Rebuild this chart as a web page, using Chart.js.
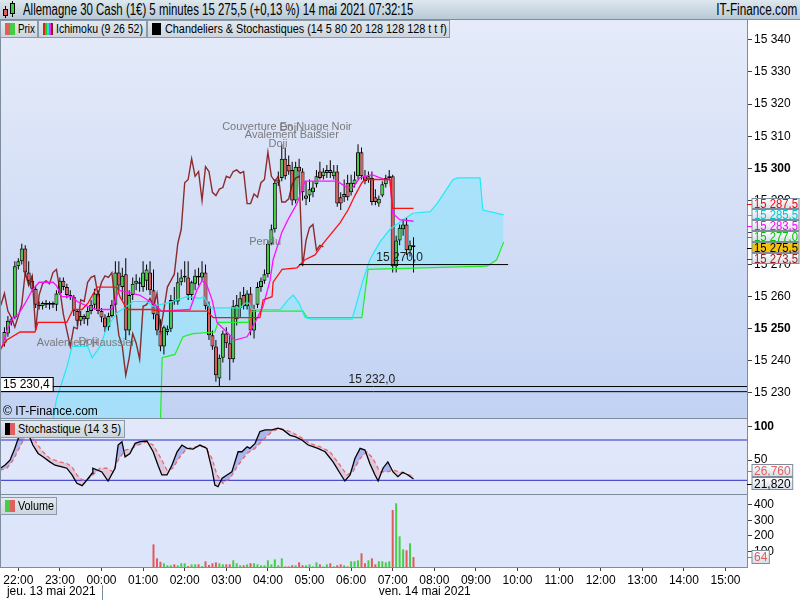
<!DOCTYPE html>
<html><head><meta charset="utf-8">
<script src="https://cdn.jsdelivr.net/npm/chart.js@4.4.1/dist/chart.umd.min.js"></script>
<style>
html,body{margin:0;padding:0;}
body{width:800px;height:600px;position:relative;overflow:hidden;background:#fff;font-family:"Liberation Sans",Arial,sans-serif;}
canvas{position:absolute;left:0;}
#header{position:absolute;left:0;top:0;width:800px;height:20px;background:linear-gradient(#dde7ee,#b9c9d6);border-bottom:1px solid #7d8d9c;box-sizing:border-box;z-index:5;}
.leg{position:absolute;height:18px;box-sizing:border-box;border:1px solid #8a9aaa;background:linear-gradient(#e3e9ef,#ccd5de);white-space:nowrap;color:#000;z-index:5;font-size:12px;line-height:16px;}
.ic{position:absolute;top:2px;height:12px;}
.fit{position:absolute;white-space:nowrap;transform-origin:0 50%;}
.vline{position:absolute;background:#7d8d9c;z-index:4;}
</style></head>
<body>
<div id="header"></div>
<canvas id="cMain" width="800" height="398" style="top:20px"></canvas>
<canvas id="cStoch" width="800" height="75" style="top:419px"></canvas>
<canvas id="cVol" width="800" height="105" style="top:495px"></canvas>
<div class="vline" style="left:0;top:20px;width:1px;height:548px"></div>
<div class="vline" style="left:0;top:418px;width:748px;height:1px"></div>
<div class="vline" style="left:0;top:494px;width:748px;height:1px"></div>
<div id="legends"></div>
<script>
// ---------------- DATA ----------------
const firstBar = -4; // bar index 0 = 22:00 (13 May), 5-minute bars
const openP = [15245.5,15248.5,15253.0,15253.5,15269.5,15271.0,15275.0,15267.5,15265.0,15262.5,15257.5,15257.0,15258.0,15257.5,15257.5,15257.5,15261.0,15265.0,15263.0,15260.5,15260.0,15255.5,15252.5,15254.0,15253.0,15255.5,15257.5,15261.0,15255.5,15253.5,15250.5,15254.0,15257.5,15267.5,15263.0,15267.0,15249.5,15260.5,15264.0,15264.5,15263.0,15265.0,15267.5,15262.0,15254.5,15249.5,15244.5,15249.0,15250.0,15259.0,15258.5,15264.5,15266.0,15266.0,15260.5,15264.0,15266.5,15266.0,15267.5,15257.0,15248.0,15244.5,15234.5,15241.0,15248.5,15245.5,15240.5,15253.0,15256.5,15260.5,15257.0,15261.0,15249.5,15257.5,15263.0,15265.0,15267.0,15276.5,15281.0,15295.5,15297.0,15303.0,15301.0,15299.5,15290.0,15300.5,15299.0,15290.5,15291.5,15292.5,15295.0,15299.0,15297.5,15298.5,15299.5,15297.5,15299.0,15291.0,15291.0,15295.5,15292.5,15295.0,15297.5,15305.0,15297.5,15296.5,15297.0,15291.0,15289.0,15291.5,15295.0,15297.0,15297.5,15269.5,15277.5,15281.0,15282.5,15274.5,15276.0];
const highP = [15250.5,15254.0,15253.5,15271.0,15272.0,15276.5,15276.0,15271.0,15266.5,15263.5,15258.5,15258.5,15259.0,15258.5,15258.5,15262.0,15266.0,15266.0,15264.0,15262.0,15260.5,15256.0,15255.5,15254.5,15257.0,15259.0,15262.5,15262.0,15256.5,15254.5,15255.0,15259.0,15271.0,15271.0,15269.0,15272.0,15262.0,15266.0,15267.0,15266.0,15271.0,15270.0,15271.0,15268.5,15257.5,15253.0,15251.0,15251.0,15260.5,15263.0,15267.5,15268.5,15271.0,15271.0,15265.0,15268.5,15269.0,15271.0,15270.0,15258.5,15249.5,15246.5,15242.0,15249.5,15250.5,15248.0,15259.0,15260.5,15261.5,15263.0,15262.0,15263.0,15257.5,15264.5,15266.0,15268.5,15277.5,15282.5,15296.5,15299.0,15307.5,15306.5,15304.0,15302.0,15302.0,15303.0,15300.0,15296.0,15296.5,15296.0,15299.5,15302.0,15300.0,15301.0,15302.5,15301.0,15301.0,15292.5,15296.5,15298.0,15298.0,15299.0,15307.5,15306.5,15299.5,15299.0,15299.0,15293.5,15291.5,15296.0,15298.0,15299.5,15298.0,15279.0,15282.5,15284.0,15284.5,15277.5,15278.5];
const lowP = [15244.5,15247.5,15251.0,15253.0,15268.5,15270.0,15266.5,15263.5,15261.5,15256.5,15256.0,15256.0,15256.5,15256.0,15256.5,15255.5,15260.5,15262.0,15259.5,15259.0,15254.0,15251.0,15251.0,15251.5,15251.0,15254.5,15256.0,15254.5,15252.0,15249.0,15249.5,15253.5,15257.0,15262.0,15259.0,15246.5,15248.0,15259.0,15262.0,15261.5,15261.5,15262.0,15260.5,15253.0,15248.0,15243.0,15242.0,15248.0,15249.0,15257.5,15257.5,15263.5,15264.5,15259.0,15259.0,15262.0,15263.5,15265.0,15256.0,15246.5,15243.5,15233.5,15232.0,15239.5,15244.0,15234.0,15239.5,15251.0,15253.5,15256.0,15256.0,15248.0,15247.0,15256.5,15261.5,15264.0,15266.0,15276.0,15280.0,15294.5,15296.0,15296.5,15298.0,15288.5,15289.0,15297.0,15290.0,15288.5,15289.5,15291.0,15294.0,15296.5,15296.5,15297.0,15297.0,15296.5,15288.0,15287.0,15289.5,15290.0,15291.5,15294.0,15296.5,15296.5,15295.0,15295.5,15288.5,15288.5,15288.0,15291.0,15294.0,15296.5,15267.5,15267.5,15276.0,15279.0,15273.0,15272.5,15267.5];
const closeP = [15249.0,15252.5,15252.0,15269.5,15271.0,15275.0,15267.5,15265.0,15262.5,15257.5,15257.0,15258.0,15257.5,15258.0,15258.0,15261.0,15265.0,15263.0,15260.5,15260.0,15255.5,15252.5,15254.0,15253.0,15255.5,15257.5,15261.0,15255.5,15253.5,15250.5,15254.0,15257.5,15267.5,15263.5,15266.5,15249.5,15260.5,15264.0,15265.0,15264.0,15267.5,15268.5,15262.0,15254.5,15249.5,15244.5,15250.5,15250.0,15259.0,15258.5,15264.5,15266.0,15266.5,15260.5,15264.5,15266.5,15266.0,15267.5,15257.0,15248.0,15244.5,15235.5,15241.0,15248.5,15245.5,15240.5,15257.0,15257.5,15259.5,15257.0,15261.0,15249.5,15256.0,15263.0,15265.0,15267.0,15276.5,15281.0,15295.5,15296.5,15303.0,15297.5,15299.0,15290.0,15300.5,15299.0,15292.5,15291.5,15293.5,15294.0,15297.5,15297.0,15299.0,15299.5,15298.5,15299.0,15289.0,15289.0,15292.0,15291.0,15295.5,15296.5,15305.0,15297.5,15296.0,15297.5,15289.5,15289.5,15290.5,15295.0,15297.0,15297.5,15269.5,15277.5,15281.5,15282.5,15274.5,15276.0,15275.5];
const volStart = 39;
const volume = [146,56,34,24,11,11,17,11,24,24,6,17,17,17,6,37,13,24,30,24,17,17,17,43,24,11,11,17,24,24,17,11,11,43,17,49,11,56,4,4,11,11,30,11,11,17,4,30,17,4,17,24,4,11,17,11,3,37,37,43,88,24,43,56,17,37,37,30,37,368,411,198,114,108,153,64];
const chikouShift = 26;
const tenkan = [[-5.3,15243.0],[-4.7,15244.5],[-3.3,15249.5],[-1.5,15253.5],[0,15254.5],[2,15258.0],[4,15262.0],[6,15264.5],[10,15264.5],[11,15263.5],[12.5,15260.0],[15.5,15260.0],[17,15258.5],[20,15257.0],[22.7,15256.0],[27,15256.0],[28.5,15260.5],[29,15262.0],[30.8,15261.5],[35,15260.5],[39.4,15257.5],[41.4,15255.5],[49.5,15256.0],[51.5,15262.0],[53,15265.0],[54.4,15263.5],[55.9,15259.0],[57.3,15252.0],[62.5,15246.5],[66,15247.5],[68.3,15252.0],[70.6,15257.0],[72.6,15265.0],[73.5,15271.5],[76,15280.0],[77.8,15284.0],[80.4,15289.0],[82.7,15296.0],[92,15296.0],[94.8,15294.0],[96.5,15294.0],[98.5,15297.0],[102,15298.0],[105.8,15296.5],[107.2,15296.5],[108,15286.0],[110,15284.0],[114,15283.5]];
const kijun = [[-5.3,15243.5],[-3.3,15246.5],[0.5,15249.0],[4.8,15249.0],[5.7,15252.0],[14,15252.0],[15.8,15256.0],[18.4,15256.0],[20.1,15258.0],[22.7,15263.0],[28.5,15263.0],[29.3,15260.0],[31.4,15256.0],[38.6,15256.0],[40.9,15255.5],[54.4,15255.5],[56.2,15253.5],[69.7,15253.5],[70.6,15259.0],[73.2,15260.0],[73.5,15264.5],[76.1,15268.5],[80.4,15269.0],[82.7,15271.5],[85.6,15273.0],[87.9,15276.5],[92.8,15283.0],[95.1,15287.0],[97.1,15291.5],[99.1,15295.5],[100,15296.5],[107.2,15296.5],[108,15287.5],[114,15287.5]];
const senkouA = [[9,15215.0],[11,15228.0],[14,15238.0],[15.5,15244.5],[20,15244.5],[21.3,15241.0],[23.6,15244.5],[25.6,15250.5],[28.5,15255.0],[31.4,15257.0],[33.1,15258.5],[37.1,15258.5],[38.9,15257.0],[40.9,15257.5],[42.9,15258.0],[47.2,15259.5],[48.7,15260.0],[52.4,15259.5],[53.5,15260.0],[55.3,15256.5],[64,15256.5],[65.4,15258.0],[66.5,15258.0],[67.4,15256.0],[75.6,15256.0],[77.8,15259.0],[79.3,15260.5],[81,15258.0],[82.7,15253.5],[84.5,15253.0],[96.3,15253.0],[99.4,15265.0],[101.4,15271.5],[104.3,15277.0],[107.2,15281.0],[111,15284.0],[113.8,15286.0],[118.8,15286.5],[120.8,15289.0],[125.4,15296.5],[126.8,15297.0],[133.2,15297.0],[134,15287.0],[140,15285.5]];
const senkouB = [[9,15200.0],[40.5,15200.0],[41.5,15241.0],[45.2,15242.0],[47.5,15247.5],[50.4,15248.5],[56.7,15249.0],[57.6,15252.0],[66.3,15252.0],[67.4,15255.5],[82.1,15255.5],[83.3,15253.5],[99.1,15253.5],[100.9,15268.5],[135.2,15269.5],[138,15271.5],[140,15277.0]];
const stochK = [[-5.3,37.6],[-3.8,42.7],[-2.4,50],[-1,67.6],[0,82.4],[1.4,95],[2.8,90],[4.2,72.5],[5.7,60],[7.1,55],[9.1,47.5],[10.6,42.5],[12.6,40],[14,38],[15.5,28],[16.9,15.5],[18.4,12],[19.8,20.5],[21.3,30.5],[21.5,38],[24.1,32.5],[25.9,19],[27.9,38],[28.8,72.5],[29.9,77.5],[30.8,55],[32.2,60],[33.7,75],[35.1,77.5],[37.1,78.5],[38.9,62.5],[40.3,42.5],[41.4,28],[42.9,28],[44.3,42.5],[45.8,62.5],[47.2,72.5],[48.7,67.5],[50.4,66.5],[52.4,72.5],[54.4,67.5],[55.9,35.5],[56.7,13],[57.6,10.5],[58.8,23],[60.2,28],[61.6,32.5],[63.4,62.5],[64.5,62.5],[66,70],[66.8,67.5],[68.3,75],[69.7,92.5],[71.2,95],[73.2,95],[74.9,97.5],[76.4,95],[78.4,87],[79.8,85],[81.8,80],[83.6,72.5],[85,70],[86.4,67.5],[88.5,62.5],[90.8,47.5],[92.8,30.5],[94.2,19],[95.7,28],[97.1,52.5],[98.6,67.5],[100,65],[101.4,45],[102.9,28],[103.8,19],[105.2,38],[106.6,47.5],[108.1,32.5],[109.5,25.5],[110.9,32],[112.4,28],[114,21.82]];
const stochD = [[-5.3,35],[-3.3,38],[-1.5,50],[0.5,70],[1.9,85],[4,87],[5.4,74],[7.1,62.5],[9.1,52.5],[12,47.5],[14,45],[15.5,40],[16.9,28],[18.4,20.5],[19.8,20.5],[21.5,28],[23.6,38],[25.6,38],[27.3,32.5],[28.8,50],[30.8,65],[32.8,67.5],[34.5,72.5],[37.1,77.5],[38.9,72.5],[40.9,55],[42.9,35],[44.6,38],[46.6,55],[48.7,67.5],[51.5,70],[53.9,70],[55.9,52.5],[57.3,28],[59,15.5],[61.1,23],[63.4,42.5],[66,60],[68.3,67.5],[70.6,80],[73.2,92.5],[75.5,97.5],[78.4,92.5],[81.2,85],[84.1,75],[87,70],[89.9,62.5],[92.8,42.5],[94.8,28],[96.5,32.5],[98.6,52.5],[100.6,62.5],[102.3,52.5],[104.3,32.5],[106.3,32.5],[108.1,35],[110.1,32.5],[112.1,28.5],[114,26.76]];
const stochLevels = [80, 20];
const chikouLabelValue = 15273.5;
const levelLines = [
  {price:15270.0, from:81, to:141.3, labelBar:110},
  {price:15232.0, from:null, to:null, labelBar:102},
  {price:15230.4, from:null, to:null, labelBar:null}
];
const patterns = [
  {text:'Couverture En Nuage Noir', bar:77.5, price:15313.0},
  {text:'Avalement Baissier', bar:78.9, price:15310.5},
  {text:'Doji', bar:78.1, price:15312.5},
  {text:'Doji', bar:74.9, price:15307.5},
  {text:'Pendu', bar:71.2, price:15277.0},
  {text:'Avalement Haussier', bar:19.5, price:15245.5},
  {text:'Doji', bar:20.1, price:15246.0}
];
const priceTicks = [15230,15240,15250,15260,15270,15280,15290,15300,15310,15320,15330,15340];
const stochTicks = [50,100];
const volTicks = [100,200,300,400];
const timeTickBars = [0,12,24,36,48,60,72,84,96,108,120,132,144,156,168,180,192,204];
const timeLabels = ['22:00','23:00','00:00','01:00','02:00','03:00','04:00','05:00','06:00','07:00','08:00','09:00','10:00','11:00','12:00','13:00','14:00','15:00'];
const dayStartBar = 24;
const dateLabels = ['jeu. 13 mai 2021','ven. 14 mai 2021'];
const titleText = 'Allemagne 30 Cash (1€) 5 minutes 15 275,5 (+0,13 %) 14 mai 2021 07:32:15';

// ---------------- FONT ----------------
const FF = '"Liberation Sans", Arial, sans-serif';
const FS = 12;

// ---------------- HTML parts ----------------
function fitSpan(left, top, width, text, bold, right){
  return '<span class="fit" data-w="'+width+'" style="'+(right ? 'right:'+right+'px;transform-origin:100% 50%;' : 'left:'+left+'px;')+'top:'+top+'px;font:'+(bold?'bold ':'')+'12px '+FF+';line-height:16px">'+text+'</span>';
}
const hdr = document.getElementById('header');
hdr.innerHTML =
 '<div style="position:absolute;left:5px;top:6px;width:1px;height:12px;background:#000"></div>'+
 '<div style="position:absolute;left:3px;top:9px;width:5px;height:7px;background:#e06060;border:1px solid #000;box-sizing:border-box"></div>'+
 '<div style="position:absolute;left:12px;top:1px;width:1px;height:16px;background:#000"></div>'+
 '<div style="position:absolute;left:10px;top:3px;width:5px;height:11px;background:#44cc44;border:1px solid #000;box-sizing:border-box"></div>'+
 fitSpan(23, 1, 390, titleText, true) +
 fitSpan(0, 1, 81, 'IT-Finance.com', true, 3);
function legBox(left, top, width, icons, text, tw){
  let h = '<div class="leg" style="left:'+left+'px;top:'+top+'px;width:'+width+'px">';
  icons.forEach(ic => { h += '<div class="ic" style="left:'+ic[0]+'px;width:'+ic[1]+'px;background:'+ic[2]+'"></div>'; });
  h += fitSpan(17, 0, tw, text, false) + '</div>';
  return h;
}
document.getElementById('legends').innerHTML =
  legBox(0,20,38,[[4,5,'#e06060'],[9,5,'#44cc44']],'Prix',17) +
  legBox(38,20,109,[[4,2,'#e02020'],[6,2,'#20d020'],[8,2,'#20e0e0'],[10,2,'#ff20ff'],[12,2,'#8b1a1a']],'Ichimoku (9 26 52)',87) +
  legBox(147,20,303,[[4,9,'#000']],'Chandeliers &amp; Stochastiques (14 5 80 20 128 128 128 t t f)',282) +
  legBox(0,420,125,[[4,5,'#000'],[9,5,'#e06060']],'Stochastique (14 3 5)',103) +
  legBox(0,497,57,[[4,5,'#44cc44'],[9,5,'#e06060']],'Volume',36);
document.querySelectorAll('.fit').forEach(s => {
  const w = s.getBoundingClientRect().width, t = +s.dataset.w;
  if (w > 0) s.style.transform = 'scaleX(' + (t / w).toFixed(3) + ')';
});

// ---------------- helpers ----------------
function grp(v){ return String(v).replace(/\B(?=(\d{3})+(?!\d))/g,' '); }
function fmt1(v){ const s = v.toFixed(1).split('.'); return grp(s[0]) + ',' + s[1]; }
function fmt3(v){ return v.toFixed(3).replace('.', ','); }
const X_MIN = -5.28, X_MAX = 210.2;
const bars = openP.map((_, k) => k + firstBar);
const GREEN = '#46cf46', RED = '#e05a5a';
const pts = arr => arr.map(p => ({x:p[0], y:p[1]}));
const hline = (v, a, b) => [{x:a, y:v}, {x:b, y:v}];

Chart.defaults.font.family = FF;
Chart.defaults.font.size = FS;
Chart.defaults.color = '#000';

function yAxis(min, max, ticks, boldFn, fmt){
  return {type:'linear', position:'right', min:min, max:max,
    afterBuildTicks: s => { s.ticks = ticks.map(v => ({value:v})); },
    afterFit: s => { s.width = 53; s.paddingTop = 0; s.paddingBottom = 0; },
    ticks:{padding:2, color:'#000', autoSkip:false, callback: v => fmt(v),
      font: ctx => ({family:FF, size:FS, weight: (ctx.tick && boldFn(ctx.tick.value)) ? 'bold' : 'normal'})},
    grid:{drawOnChartArea:false, drawTicks:true, tickLength:5, color:'#404040'},
    border:{display:true, color:'#7d8d9c'}
  };
}
const hiddenX = {type:'linear', min:X_MIN, max:X_MAX, display:false, offset:false, grid:{offset:false}};
const baseOpts = {responsive:false, animation:false, devicePixelRatio:1, events:[],
  layout:{padding:0},
  plugins:{legend:{display:false}, tooltip:{enabled:false}, filler:{drawTime:'beforeDatasetsDraw'}}};

function fillBg(chart, c1, c2){
  const {ctx, chartArea:a} = chart;
  const g = ctx.createLinearGradient(0, a.top, 0, a.bottom);
  g.addColorStop(0, c1); g.addColorStop(1, c2);
  ctx.save(); ctx.fillStyle = g; ctx.fillRect(a.left, a.top, a.right - a.left, a.bottom - a.top); ctx.restore();
}
function placeLabels(items, h){
  const s = items.slice().sort((a,b) => a.y - b.y);
  let groups = s.map(it => ({items:[it], top: it.y - h/2}));
  let changed = true;
  while (changed){
    changed = false;
    for (let g = 0; g < groups.length - 1; g++){
      const A = groups[g], B = groups[g+1];
      if (A.top + A.items.length*h > B.top + 0.01){
        const its = A.items.concat(B.items);
        const mean = its.reduce((t,it) => t + it.y, 0) / its.length;
        groups.splice(g, 2, {items:its, top: mean - its.length*h/2});
        changed = true; break;
      }
    }
  }
  groups.forEach(G => G.items.forEach((it,k) => { it.py = G.top + k*h + h/2; }));
}
function drawAxisLabels(chart, items, h, fs){
  const {ctx, chartArea:a} = chart;
  placeLabels(items, h);
  ctx.save();
  ctx.font = (fs || FS) + 'px ' + FF;
  ctx.textBaseline = 'middle';
  items.forEach(it => {
    const w = Math.min(ctx.measureText(it.text).width + 4, 47);
    const x = a.right + 5;
    ctx.strokeStyle = it.color; ctx.lineWidth = 1;
    ctx.beginPath(); ctx.moveTo(a.right, Math.round(it.py)+0.5); ctx.lineTo(x, Math.round(it.py)+0.5); ctx.stroke();
    const top = Math.round(it.py - h/2) + 0.5;
    if (it.bg){ ctx.fillStyle = it.bg; }
    else { const g = ctx.createLinearGradient(0, top, 0, top + h); g.addColorStop(0,'#ffffff'); g.addColorStop(1,'#d3dbe4'); ctx.fillStyle = g; }
    ctx.fillRect(x, top, w, h - 1);
    ctx.strokeStyle = '#7d8d9c'; ctx.strokeRect(x, top, w, h - 1);
    ctx.fillStyle = it.color;
    ctx.save(); ctx.translate(x + 2, top + h/2);
    const tw = ctx.measureText(it.text).width;
    if (tw > w - 3) ctx.scale((w - 3) / tw, 1);
    ctx.fillText(it.text, 0, 0.5); ctx.restore();
  });
  ctx.restore();
}

// ---------------- MAIN CHART ----------------
const candleColors = bars.map((b,k) => closeP[k] >= openP[k] ? GREEN : RED);
const chikouPts = [];
bars.forEach((b,k) => { if (b - chikouShift >= -6) chikouPts.push({x: b - chikouShift, y: closeP[k]}); });
const lineDs = (data, color, w, order, extra) => Object.assign({type:'line', data:data, borderColor:color, borderWidth:w, pointRadius:0, tension:0, fill:false, order:order}, extra || {});

const mainPlugin = {
  id:'mainDeco',
  beforeDraw(chart){ fillBg(chart, '#e5ebf9', '#c2d2f3'); },
  afterDatasetsDraw(chart){
    const {ctx, chartArea:a, scales:{x, y}} = chart;
    ctx.save();
    ctx.beginPath(); ctx.rect(a.left, a.top, a.right-a.left, a.bottom-a.top); ctx.clip();
    ctx.font = '11px ' + FF; ctx.textAlign = 'center'; ctx.textBaseline = 'middle';
    ctx.fillStyle = '#7a7a7a';
    patterns.forEach(p => ctx.fillText(p.text, x.getPixelForValue(p.bar), y.getPixelForValue(p.price)));
    ctx.font = FS + 'px ' + FF; ctx.fillStyle = '#222'; ctx.textBaseline = 'bottom';
    levelLines.forEach(L => {
      if (L.labelBar !== null) ctx.fillText(fmt1(L.price), x.getPixelForValue(L.labelBar), y.getPixelForValue(L.price) - 1);
    });
    const L3 = levelLines[2];
    const py = Math.round(y.getPixelForValue(L3.price));
    ctx.textAlign = 'left'; ctx.textBaseline = 'middle';
    const tw = ctx.measureText(fmt1(L3.price)).width;
    ctx.fillStyle = '#fff'; ctx.fillRect(a.left, py - 14, tw + 6, 14);
    ctx.strokeStyle = '#000'; ctx.lineWidth = 1; ctx.strokeRect(a.left + 0.5, py - 14.5, tw + 6, 14);
    ctx.fillStyle = '#000'; ctx.fillText(fmt1(L3.price), a.left + 3, py - 7);
    ctx.fillText('© IT-Finance.com', a.left + 3, a.bottom - 6);
    ctx.restore();
  },
  afterDraw(chart){
    const y = chart.scales.y;
    const last = arr => arr[arr.length-1][1];
    const items = [
      {v:last(kijun), color:'#ff0000'},
      {v:last(senkouA), color:'#00c4d0'},
      {v:last(tenkan), color:'#ff00ff'},
      {v:last(senkouB), color:'#00c000'},
      {v:chikouLabelValue, color:'#a01818'},
      {v:closeP[closeP.length-1], color:'#000000', bg:'#f3c20f'}
    ];
    items.forEach(it => { it.y = y.getPixelForValue(it.v); it.text = fmt1(it.v); });
    drawAxisLabels(chart, items, 11);
  }
};

new Chart(document.getElementById('cMain'), {
  type:'bar',
  data:{datasets:[
    lineDs(pts(senkouA), '#22eaf4', 1.2, 2, {fill:{target:1, above:'rgba(160,226,250,0.82)', below:'rgba(160,226,250,0.82)'}}),
    lineDs(pts(senkouB), '#22ee22', 1.2, 2),
    {type:'bar', data:bars.map((b,k) => ({x:b, y:[lowP[k], highP[k]]})), backgroundColor:'#000', barThickness:1, grouped:false, borderWidth:0, inflateAmount:0, order:6},
    {type:'bar', data:bars.map((b,k) => ({x:b, y:[openP[k], closeP[k]]})), backgroundColor:candleColors, borderColor:'#000', borderWidth:1, borderSkipped:false, barThickness:4, minBarLength:1, grouped:false, inflateAmount:0, order:5},
    lineDs(chikouPts, 'rgba(128,10,10,0.85)', 1.4, 3),
    lineDs(pts(kijun), '#ff1010', 1.3, 1),
    lineDs(pts(tenkan), '#ff10ff', 1.3, 1),
    lineDs(hline(levelLines[0].price, levelLines[0].from, levelLines[0].to), '#000', 1, 0),
    lineDs(hline(levelLines[1].price, X_MIN, X_MAX), '#000', 1, 0),
    lineDs(hline(levelLines[2].price, X_MIN, X_MAX), '#000', 1, 0)
  ]},
  options:Object.assign({}, baseOpts, {
    scales:{x:hiddenX, y:yAxis(15222.2, 15346.2, priceTicks, v => v % 50 === 0, v => grp(v))}
  }),
  plugins:[mainPlugin]
});

// ---------------- STOCH CHART ----------------
const stochPlugin = {
  id:'stochDeco',
  beforeDraw(chart){ fillBg(chart, '#e2e8fa', '#dfe6fa'); },
  afterDraw(chart){
    const y = chart.scales.y;
    const items = [
      {v:stochD[stochD.length-1][1], color:'#e06060'},
      {v:stochK[stochK.length-1][1], color:'#000'}
    ];
    items.forEach(it => { it.y = y.getPixelForValue(it.v); it.text = fmt3(it.v); });
    drawAxisLabels(chart, items, 13);
  }
};
new Chart(document.getElementById('cStoch'), {
  type:'line',
  data:{datasets:[
    lineDs(pts(stochK), '#000', 1.3, 1, {fill:{target:1, above:'rgba(100,112,220,0.42)', below:'rgba(215,150,175,0.38)'}}),
    lineDs(pts(stochD), '#e86a6a', 1.3, 2, {borderDash:[4,3]}),
    lineDs(hline(stochLevels[0], X_MIN, X_MAX), '#2a2ac8', 1, 3),
    lineDs(hline(stochLevels[1], X_MIN, X_MAX), '#2a2ac8', 1, 3)
  ]},
  options:Object.assign({}, baseOpts, {
    scales:{x:hiddenX, y:yAxis(-0.35, 111.25, stochTicks, v => v === 100, v => String(v))}
  }),
  plugins:[stochPlugin]
});

// ---------------- VOLUME CHART ----------------
const volColors = volume.map((v,k) => { const idx = volStart + k - firstBar; return closeP[idx] >= openP[idx] ? GREEN : RED; });
const volPlugin = {
  id:'volDeco',
  beforeDraw(chart){ fillBg(chart, '#dce5fa', '#dce5fa'); },
  afterDraw(chart){
    const {ctx, chartArea:a, scales:{x, y}} = chart;
    const sep = Math.round(x.getPixelForValue(dayStartBar)) + 0.5;
    ctx.save();
    ctx.strokeStyle = '#7d8d9c'; ctx.lineWidth = 1;
    ctx.beginPath(); ctx.moveTo(sep, x.bottom - 15); ctx.lineTo(sep, x.bottom); ctx.stroke();
    ctx.font = FS + 'px ' + FF; ctx.fillStyle = '#000'; ctx.textAlign = 'center'; ctx.textBaseline = 'middle';
    ctx.fillText(dateLabels[0], (a.left + sep)/2, x.bottom - 8);
    ctx.fillText(dateLabels[1], (sep + a.right)/2, x.bottom - 8);
    ctx.restore();
    const lv = volume[volume.length-1];
    const items = [{v:lv, y:y.getPixelForValue(lv), text:String(lv), color:volColors[volColors.length-1]}];
    drawAxisLabels(chart, items, 14);
  }
};
new Chart(document.getElementById('cVol'), {
  type:'bar',
  data:{datasets:[
    {type:'bar', data:volume.map((v,k) => ({x:volStart + k, y:v})), backgroundColor:volColors, barThickness:2, grouped:false, borderWidth:0, inflateAmount:0}
  ]},
  options:Object.assign({}, baseOpts, {
    scales:{
      x:{type:'linear', min:X_MIN, max:X_MAX, offset:false, position:'bottom',
        afterBuildTicks: s => { s.ticks = timeTickBars.map(v => ({value:v})); },
        afterFit: s => { s.height = 33; s.paddingLeft = 0; s.paddingRight = 0; },
        ticks:{autoSkip:false, maxRotation:0, minRotation:0, padding:2, color:'#000', callback:(v, i) => timeLabels[i]},
        grid:{offset:false, drawOnChartArea:false, drawTicks:true, tickLength:4, color:'#404040'},
        border:{display:true, color:'#7d8d9c'}},
      y:yAxis(0, 464.5, volTicks, v => false, v => String(v))
    }
  }),
  plugins:[volPlugin]
});
</script>
</body></html>
